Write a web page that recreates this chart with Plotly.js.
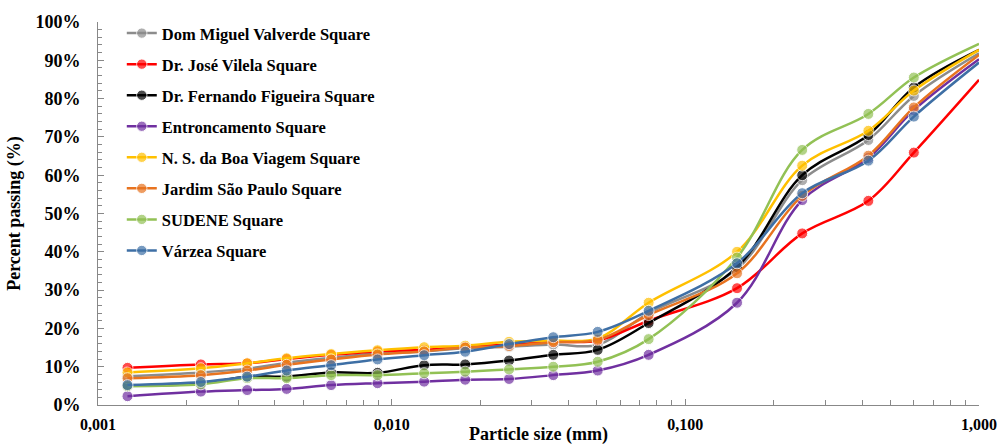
<!DOCTYPE html>
<html>
<head>
<meta charset="utf-8">
<script src="https://cdn.plot.ly/plotly-3.0.1.min.js"></script>
<style>html,body{margin:0;padding:0;background:#fff;overflow:hidden;}#chart{width:1006px;height:445px;}</style>
</head>
<body>
<div id="chart"></div>
<script>
// Particle size (mm)
const particleSize = [0.00126, 0.00224, 0.00322, 0.00439, 0.00622, 0.00895, 0.0129, 0.0178, 0.0251, 0.0355, 0.0503, 0.075, 0.15, 0.25, 0.42, 0.6, 1.0];

// Percent passing (%) per square
const domMiguelValverde   = [7.5, 8.5, 9.5, 11.0, 12.3, 13.5, 14.0, 14.8, 15.2, 15.8, 15.7, 24.0, 35.5, 58.7, 69.2, 80.7, 91.8];
const drJoseVilela        = [9.7, 10.6, 10.9, 12.0, 13.1, 14.0, 14.4, 15.2, 15.8, 16.5, 16.8, 22.0, 30.5, 44.8, 53.3, 65.9, 84.9];
const drFernandoFigueira  = [5.0, 5.6, 7.4, 7.4, 8.5, 8.4, 10.4, 10.6, 11.6, 13.1, 14.4, 21.4, 36.0, 60.0, 70.5, 82.9, 92.7];
const entroncamento       = [2.3, 3.5, 3.9, 4.2, 5.2, 5.7, 6.1, 6.6, 6.8, 7.8, 9.0, 13.1, 26.7, 53.5, 64.5, 77.0, 90.3];
const nsBoaViagem         = [8.5, 9.6, 10.9, 12.2, 13.3, 14.3, 15.1, 15.5, 16.5, 16.8, 17.4, 26.7, 40.0, 62.5, 71.6, 82.1, 92.7];
const jardimSaoPaulo      = [7.0, 7.8, 9.0, 10.5, 11.9, 13.2, 14.0, 15.0, 15.4, 16.4, 17.0, 23.5, 34.4, 54.6, 65.1, 77.7, 91.4];
const sudene              = [4.9, 5.4, 7.0, 7.0, 7.8, 7.8, 8.3, 8.7, 9.3, 10.0, 11.3, 17.2, 38.5, 66.6, 76.0, 85.5, 94.3];
const varzea              = [5.2, 6.0, 7.4, 9.0, 10.4, 11.9, 13.0, 13.9, 15.9, 17.7, 19.1, 24.6, 37.0, 55.3, 63.8, 75.3, 89.4];

const seriesNames = ["Dom Miguel Valverde Square", "Dr. José Vilela Square", "Dr. Fernando Figueira Square", "Entroncamento Square", "N. S. da Boa Viagem Square", "Jardim São Paulo Square", "SUDENE Square", "Várzea Square"];
const seriesValues = [domMiguelValverde, drJoseVilela, drFernandoFigueira, entroncamento, nsBoaViagem, jardimSaoPaulo, sudene, varzea];
const seriesColors = ["#8c8c8c", "#ff0000", "#000000", "#7030a0", "#ffc000", "#e8731f", "#92c155", "#3e6fa5"];

const xTickVals = [0.001, 0.01, 0.1, 1];
const xTickText = ["0,001", "0,010", "0,100", "1,000"];

const FONT = "'Liberation Serif', 'Times New Roman', serif";

// marker hidden at the axis end (point lies on the plot edge)
const markerSizes = particleSize.map(v => v >= 1 ? 0 : 11);
const minorVals = [];
[0.001, 0.01, 0.1].forEach(d => { for (let k = 2; k <= 9; k++) minorVals.push(d * k); });

const traces = seriesNames.map((name, i) => ({
  type: "scatter",
  mode: "lines+markers",
  name: name,
  legendgroup: "g" + i,
  x: particleSize,
  y: seriesValues[i],
  line: { color: seriesColors[i], width: 2.5, shape: "spline", smoothing: 1 },
  marker: { color: seriesColors[i], size: markerSizes },
  cliponaxis: true
}));

const layout = {
  width: 1006, height: 445,
  margin: { l: 98, r: 27, t: 22, b: 40 },
  paper_bgcolor: "#ffffff",
  plot_bgcolor: "#ffffff",
  font: { family: FONT, color: "#000000" },
  showlegend: true,
  legend: {
    x: 0.027, y: 1.016, xanchor: "left", yanchor: "top",
    maxheight: 420,
    bgcolor: "rgba(0,0,0,0)",
    traceorder: "grouped",
    tracegroupgap: 6.6,
    font: { family: FONT, size: 16.5, color: "#000000", weight: "bold" }
  },
  xaxis: {
    type: "log",
    range: [-3, 0],
    tickmode: "array",
    tickvals: xTickVals,
    ticktext: xTickText,
    ticks: "inside",
    ticklen: 6,
    tickcolor: "#888888",
    ticklabeloverflow: "allow",
    ticklabelstandoff: 5,
    showline: true,
    linecolor: "#888888",
    linewidth: 1,
    showgrid: false,
    zeroline: false,
    tickfont: { family: FONT, size: 16, weight: "bold" },
    minor: { tickmode: "array", tickvals: minorVals, ticks: "inside", ticklen: 5, tickcolor: "#888888", showgrid: false },
    title: { text: "Particle size (mm)", font: { family: FONT, size: 18, weight: "bold" }, standoff: 0 },
    automargin: false
  },
  yaxis: {
    range: [0, 100],
    dtick: 10,
    ticksuffix: "%",
    ticks: "inside",
    ticklen: 6,
    tickcolor: "#888888",
    ticklabelstandoff: 13,
    showline: true,
    linecolor: "#888888",
    linewidth: 1,
    showgrid: false,
    zeroline: false,
    tickfont: { family: FONT, size: 18, weight: "bold" },
    minor: { dtick: 2, ticks: "inside", ticklen: 4, tickcolor: "#888888", showgrid: false },
    title: { text: "Percent passing (%)", font: { family: FONT, size: 18, weight: "bold" }, standoff: 10 },
    automargin: false
  }
};

Plotly.newPlot("chart", traces, layout, { displayModeBar: false, staticPlot: true });
</script>
</body>
</html>
